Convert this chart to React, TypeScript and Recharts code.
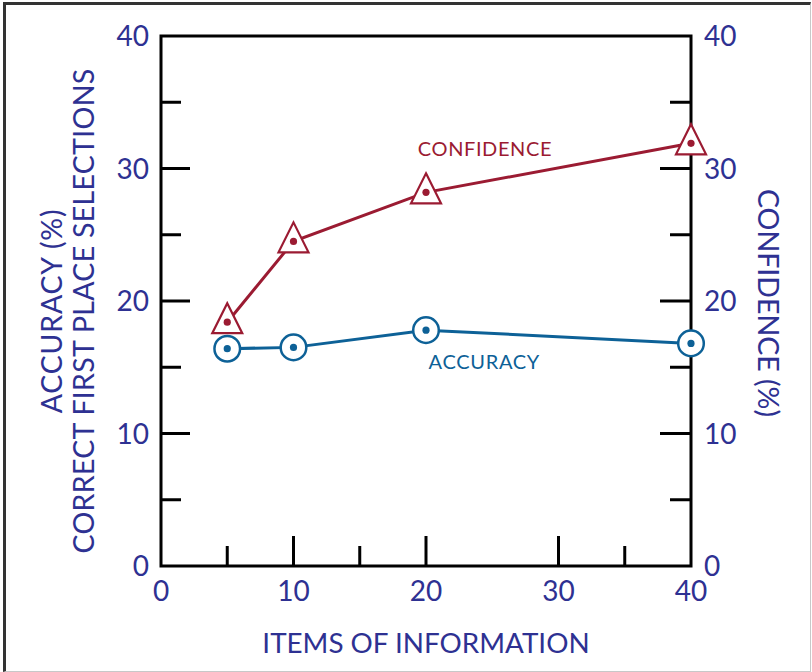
import React from "react";
import {
  LineChart,
  Line,
  XAxis,
  YAxis,
  ReferenceArea,
  ReferenceDot,
  Label,
} from "recharts";

const items = [5, 10, 20, 40];
const confidence = [18.4, 24.5, 28.2, 31.9];
const accuracy = [16.4, 16.5, 17.8, 16.8];

const xTicks = [0, 5, 10, 15, 20, 30, 35, 40];
const yTicks = [0, 5, 10, 15, 20, 25, 30, 35, 40];

const data = items.map((n, i) => ({
  items: n,
  confidence: confidence[i],
  accuracy: accuracy[i],
}));

const NAVY = "#2e3192";
const RED = "#9b1b32";
const BLUE = "#0d6197";
const FONT = "Lato, 'Open Sans', sans-serif";

const isMajor = (v: number) => v % 10 === 0;
const isEdge = (v: number) => v === 0 || v === 40;

function LeftTick({ x, y, payload }: any) {
  const v = payload.value;
  return (
    <g>
      {!isEdge(v) && (
        <line x1={x} x2={x + (isMajor(v) ? 29 : 20)} y1={y} y2={y} stroke="#000" strokeWidth={3} />
      )}
      {isMajor(v) && (
        <text x={x - 12} y={y} dy="0.36em" textAnchor="end" fill={NAVY} fontSize={28} fontFamily={FONT}>
          {v}
        </text>
      )}
    </g>
  );
}

function RightTick({ x, y, payload }: any) {
  const v = payload.value;
  return (
    <g>
      {!isEdge(v) && (
        <line x1={x} x2={x - (isMajor(v) ? 31 : 21)} y1={y} y2={y} stroke="#000" strokeWidth={3} />
      )}
      {isMajor(v) && (
        <text x={x + 13} y={y} dy="0.36em" textAnchor="start" fill={NAVY} fontSize={28} fontFamily={FONT}>
          {v}
        </text>
      )}
    </g>
  );
}

function BottomTick({ x, y, payload }: any) {
  const v = payload.value;
  return (
    <g>
      {!isEdge(v) && (
        <line x1={x} x2={x} y1={y} y2={y - (isMajor(v) ? 30 : 20)} stroke="#000" strokeWidth={3} />
      )}
      {isMajor(v) && (
        <text x={x} y={y + 35} textAnchor="middle" fill={NAVY} fontSize={28} fontFamily={FONT}>
          {v}
        </text>
      )}
    </g>
  );
}

function TriangleDot({ cx, cy }: any) {
  if (cx == null || cy == null) return null;
  return (
    <g>
      <polygon
        points={`${cx},${cy - 19} ${cx + 15},${cy + 11} ${cx - 15},${cy + 11}`}
        fill="#fff"
        stroke={RED}
        strokeWidth={2.2}
      />
      <circle cx={cx} cy={cy} r={3.6} fill={RED} />
    </g>
  );
}

function CircleDot({ cx, cy }: any) {
  if (cx == null || cy == null) return null;
  return (
    <g>
      <circle cx={cx} cy={cy} r={12.8} fill="#fff" stroke={BLUE} strokeWidth={2.5} />
      <circle cx={cx} cy={cy} r={3.6} fill={BLUE} />
    </g>
  );
}

function LeftTitle({ viewBox }: any) {
  const cy = viewBox.y + viewBox.height / 2 + 10;
  return (
    <g fill={NAVY} fontSize={28.5} fontFamily={FONT} textAnchor="middle">
      <text x={62} y={cy} letterSpacing={0.8} transform={`rotate(-90, 62, ${cy})`}>
        ACCURACY (%)
      </text>
      <text x={94} y={cy} letterSpacing={0.3} transform={`rotate(-90, 94, ${cy})`}>
        CORRECT FIRST PLACE SELECTIONS
      </text>
    </g>
  );
}

function RightTitle({ viewBox }: any) {
  const cy = viewBox.y + viewBox.height / 2 + 2;
  return (
    <text
      x={758}
      y={cy}
      transform={`rotate(90, 758, ${cy})`}
      fill={NAVY}
      fontSize={28.5}
      fontFamily={FONT}
      textAnchor="middle"
    >
      CONFIDENCE (%)
    </text>
  );
}

function BottomTitle({ viewBox }: any) {
  const cx = viewBox.x + viewBox.width / 2;
  return (
    <text x={cx} y={653} fill={NAVY} fontSize={27.8} fontFamily={FONT} textAnchor="middle">
      ITEMS OF INFORMATION
    </text>
  );
}

export default function App() {
  return (
    <div style={{ position: "absolute", left: 0, top: 0, width: 812, height: 672, background: "#fff" }}>
      <div
        style={{
          position: "absolute",
          left: 3,
          top: 2,
          width: 804,
          height: 666,
          borderTop: "3px solid #333",
          borderLeft: "3px solid #333",
          borderRight: "1px solid #c8c8c8",
          borderBottom: "1px solid #c8c8c8",
        }}
      />
      <div style={{ position: "absolute", left: 0, top: 0 }}>
        <LineChart
          width={812}
          height={672}
          data={data}
          margin={{ top: 36, right: 20, bottom: 20, left: 20 }}
        >
          <XAxis
            dataKey="items"
            type="number"
            domain={[0, 40]}
            ticks={xTicks}
            interval={0}
            axisLine={false}
            tickLine={false}
            tickSize={0}
            tickMargin={0}
            height={86}
            tick={<BottomTick />}
          >
            <Label content={<BottomTitle />} />
          </XAxis>
          <YAxis
            yAxisId="left"
            type="number"
            domain={[0, 40]}
            ticks={yTicks}
            interval={0}
            axisLine={false}
            tickLine={false}
            tickSize={0}
            tickMargin={0}
            width={141}
            tick={<LeftTick />}
          >
            <Label content={<LeftTitle />} />
          </YAxis>
          <YAxis
            yAxisId="right"
            orientation="right"
            type="number"
            domain={[0, 40]}
            ticks={yTicks}
            interval={0}
            axisLine={false}
            tickLine={false}
            tickSize={0}
            tickMargin={0}
            width={101}
            tick={<RightTick />}
          >
            <Label content={<RightTitle />} />
          </YAxis>
          <ReferenceArea
            yAxisId="left"
            x1={0}
            x2={40}
            y1={0}
            y2={40}
            fill="none"
            fillOpacity={0}
            stroke="#000"
            strokeWidth={3}
          />
          <ReferenceDot
            yAxisId="right"
            x={24.45}
            y={31.5}
            r={0}
            stroke="none"
            label={{ value: "CONFIDENCE", position: "center", fill: RED, fontSize: 20, letterSpacing: 0.6, fontFamily: FONT }}
          />
          <ReferenceDot
            yAxisId="left"
            x={24.4}
            y={15.4}
            r={0}
            stroke="none"
            label={{ value: "ACCURACY", position: "center", fill: BLUE, fontSize: 20, letterSpacing: 0.7, fontFamily: FONT }}
          />
          <Line
            yAxisId="left"
            dataKey="accuracy"
            type="linear"
            stroke={BLUE}
            strokeWidth={3}
            dot={<CircleDot />}
            activeDot={false}
            isAnimationActive={false}
          />
          <Line
            yAxisId="right"
            dataKey="confidence"
            type="linear"
            stroke={RED}
            strokeWidth={3}
            dot={<TriangleDot />}
            activeDot={false}
            isAnimationActive={false}
          />
        </LineChart>
      </div>
    </div>
  );
}
